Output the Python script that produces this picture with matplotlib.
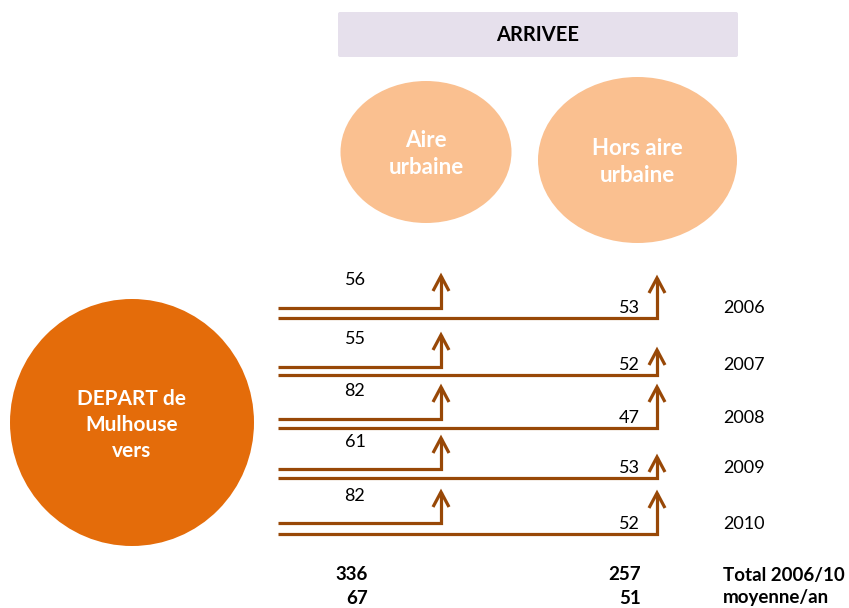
import matplotlib.pyplot as plt
from matplotlib.patches import Ellipse, FancyBboxPatch

# data
years = ['2006', '2007', '2008', '2009', '2010']
aire_urbaine = [56, 55, 82, 61, 82]
hors_aire = [53, 52, 47, 53, 52]

# layout (pixel coordinates, y downward)
short_y = [308, 367, 419, 469, 523]
short_tip = [276, 335, 387, 438, 492]
long_y = [318, 375, 428, 478, 534]
long_tip = [278, 350, 387, 457, 493]
x_start = 278
x_short = 441
x_long = 657

brown = '#984807'
plt.rcParams['font.family'] = ['Lato', 'DejaVu Sans']

fig = plt.figure(figsize=(8.49, 6.08), dpi=100)
ax = fig.add_axes([0, 0, 1, 1])
ax.set_xlim(0, 849)
ax.set_ylim(608, 0)
ax.axis('off')

# header
ax.add_patch(FancyBboxPatch((338, 12), 400, 45, boxstyle='round,pad=0,rounding_size=2',
                            fc='#E6E0EC', ec='none'))
ax.text(538, 35, 'ARRIVEE', ha='center', va='center', fontsize=14.5, fontweight='bold')

# destination ellipses
ax.add_patch(Ellipse((426, 152), 171, 142, fc='#FAC090', ec='none'))
ax.text(426, 154, 'Aire\nurbaine', ha='center', va='center', fontsize=16,
        fontweight='bold', color='white', linespacing=1.3)
ax.add_patch(Ellipse((637.5, 160), 199, 166, fc='#FAC090', ec='none'))
ax.text(637.5, 162, 'Hors aire\nurbaine', ha='center', va='center', fontsize=16,
        fontweight='bold', color='white', linespacing=1.3)

# departure circle
ax.add_patch(Ellipse((132, 422.5), 244, 247, fc='#E46C0A', ec='none'))
ax.text(132, 425, 'DEPART de\nMulhouse\nvers', ha='center', va='center', fontsize=15,
        fontweight='bold', color='white', linespacing=1.35)


def bent_arrow(y, tip, xe):
    ax.plot([x_start, xe, xe], [y, y, tip], color=brown, lw=2.3,
            solid_joinstyle='miter', solid_capstyle='butt')
    ax.plot([xe - 8, xe, xe + 8], [tip + 15, tip, tip + 15], color=brown, lw=2.3,
            solid_joinstyle='miter', solid_capstyle='butt')


for i in range(len(years)):
    bent_arrow(short_y[i], short_tip[i], x_short)
    bent_arrow(long_y[i], long_tip[i], x_long)
    ax.text(355, short_tip[i] + 4, str(aire_urbaine[i]), ha='center', va='center', fontsize=13)
    ax.text(629, long_y[i] - 10, str(hors_aire[i]), ha='center', va='center', fontsize=13)
    ax.text(723, long_y[i] - 10, years[i], ha='left', va='center', fontsize=13)

total_a = sum(aire_urbaine)
total_h = sum(hors_aire)
bold = dict(va='center', fontsize=13.5, fontweight='bold')
ax.text(368, 575, str(total_a), ha='right', **bold)
ax.text(641, 575, str(total_h), ha='right', **bold)
ax.text(723, 575, 'Total 2006/10', ha='left', **bold)
ax.text(368, 598, str(round(total_a / len(years))), ha='right', **bold)
ax.text(641, 598, str(round(total_h / len(years))), ha='right', **bold)
ax.text(723, 598, 'moyenne/an', ha='left', **bold)

fig.savefig('out.png', dpi=100)
